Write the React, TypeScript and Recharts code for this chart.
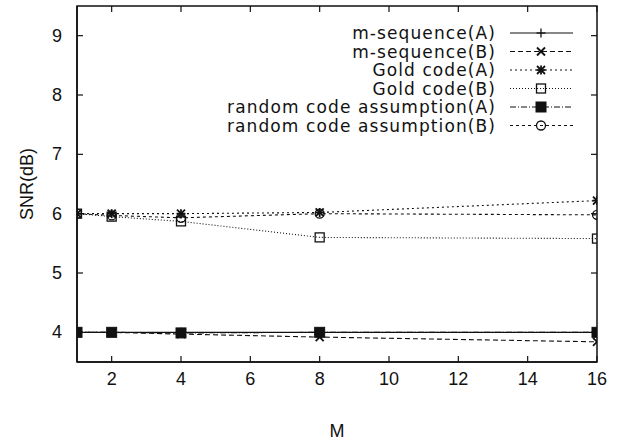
import React from 'react';
import { LineChart, Line, XAxis, YAxis, Legend, ReferenceArea } from 'recharts';

const mValues = [1, 2, 4, 8, 16];
const mSeqA = [4.0, 4.0, 4.0, 4.0, 4.0];
const mSeqB = [4.0, 4.0, 3.97, 3.92, 3.84];
const goldA = [6.0, 6.0, 6.0, 6.02, 6.22];
const goldB = [6.0, 5.95, 5.87, 5.6, 5.58];
const randA = [4.0, 4.0, 3.99, 4.0, 4.0];
const randB = [6.0, 5.97, 5.93, 6.0, 5.98];

const seriesNames = [
  'm-sequence(A)',
  'm-sequence(B)',
  'Gold code(A)',
  'Gold code(B)',
  'random code assumption(A)',
  'random code assumption(B)',
];
const xTicks = [2, 4, 6, 8, 10, 12, 14, 16];
const yTicks = [4, 5, 6, 7, 8, 9];
const xDomain = [1, 16];
const yDomain = [3.5, 9.5];

const seriesValues = [mSeqA, mSeqB, goldA, goldB, randA, randB];
const keys = ['mSeqA', 'mSeqB', 'goldA', 'goldB', 'randA', 'randB'];

const data = mValues.map((m, i) => {
  const row: any = { m };
  keys.forEach((k, j) => {
    row[k] = seriesValues[j][i];
  });
  return row;
});

const INK = '#111';
const FONT = '"Liberation Sans", Arial, sans-serif';
const LEGEND_FONT = '"DejaVu Sans", "Liberation Sans", sans-serif';

// layout
const W = 626;
const H = 445;
const MARGIN = { top: 6, right: 29, bottom: 28, left: 37 };
const X_AXIS_H = 55;
const Y_AXIS_W = 40;
const PLOT_TOP = MARGIN.top;
const PLOT_BOTTOM = H - MARGIN.bottom - X_AXIS_H;
const PLOT_LEFT = MARGIN.left + Y_AXIS_W;
const PLOT_RIGHT = W - MARGIN.right;
const TICK = 6;

type Kind = 'plus' | 'cross' | 'star' | 'square' | 'fsquare' | 'circle';
const kinds: Kind[] = ['plus', 'cross', 'star', 'square', 'fsquare', 'circle'];
const dashes = ['', '5 3', '2 3', '1 2', '6 2 1 2', '3 3'];

function marker(kind: Kind, cx: number, cy: number, key?: any) {
  const s = 4.5;
  switch (kind) {
    case 'plus':
      return (
        <g key={key}>
          <line x1={cx - s} y1={cy} x2={cx + s} y2={cy} stroke={INK} strokeWidth={1.3} />
          <line x1={cx} y1={cy - s} x2={cx} y2={cy + s} stroke={INK} strokeWidth={1.3} />
        </g>
      );
    case 'cross':
      return (
        <g key={key}>
          <line x1={cx - 4} y1={cy - 4} x2={cx + 4} y2={cy + 4} stroke={INK} strokeWidth={1.8} />
          <line x1={cx - 4} y1={cy + 4} x2={cx + 4} y2={cy - 4} stroke={INK} strokeWidth={1.8} />
        </g>
      );
    case 'star':
      return (
        <g key={key}>
          <line x1={cx - 4} y1={cy - 4} x2={cx + 4} y2={cy + 4} stroke={INK} strokeWidth={1.8} />
          <line x1={cx - 4} y1={cy + 4} x2={cx + 4} y2={cy - 4} stroke={INK} strokeWidth={1.8} />
          <line x1={cx - s} y1={cy} x2={cx + s} y2={cy} stroke={INK} strokeWidth={1.8} />
          <line x1={cx} y1={cy - s} x2={cx} y2={cy + s} stroke={INK} strokeWidth={1.8} />
        </g>
      );
    case 'square':
      return (
        <rect key={key} x={cx - 4.5} y={cy - 4.5} width={9} height={9} fill="none" stroke={INK} strokeWidth={1.3} />
      );
    case 'fsquare':
      return <rect key={key} x={cx - 5} y={cy - 5} width={10} height={10} fill={INK} stroke={INK} />;
    case 'circle':
      return <circle key={key} cx={cx} cy={cy} r={4.5} fill="none" stroke={INK} strokeWidth={1.3} />;
  }
  return null;
}

const makeDot = (kind: Kind) => (props: any) => {
  const { cx, cy, index } = props;
  if (cx == null || cy == null) return <g key={index} />;
  return marker(kind, cx, cy, index);
};

const XTick = (props: any) => {
  const { x, payload } = props;
  return (
    <g>
      <line x1={x} y1={PLOT_BOTTOM} x2={x} y2={PLOT_BOTTOM - TICK} stroke={INK} strokeWidth={1.2} />
      <line x1={x} y1={PLOT_TOP} x2={x} y2={PLOT_TOP + TICK} stroke={INK} strokeWidth={1.2} />
      <text x={x} y={PLOT_BOTTOM + 23} textAnchor="middle" fontFamily={FONT} fontSize={18} fill={INK}>
        {payload.value}
      </text>
    </g>
  );
};

const YTick = (props: any) => {
  const { y, payload } = props;
  return (
    <g>
      <line x1={PLOT_LEFT} y1={y} x2={PLOT_LEFT + TICK} y2={y} stroke={INK} strokeWidth={1.2} />
      <line x1={PLOT_RIGHT} y1={y} x2={PLOT_RIGHT - TICK} y2={y} stroke={INK} strokeWidth={1.2} />
      <text x={PLOT_LEFT - 15} y={y + 6} textAnchor="end" fontFamily={FONT} fontSize={18} fill={INK}>
        {payload.value}
      </text>
    </g>
  );
};

const renderLegend = () => {
  const textX = 496;
  const lineX1 = 510;
  const lineX2 = 573;
  const y0 = 33;
  const dy = 18.5;
  return (
    <svg width={W} height={150} style={{ display: 'block' }}>
      {seriesNames.map((name, i) => {
        const y = y0 + i * dy;
        return (
          <g key={name}>
            <text
              x={textX}
              y={y}
              textAnchor="end"
              dominantBaseline="central"
              fontFamily={LEGEND_FONT}
              fontSize={17}
              letterSpacing={1.1}
              fill={INK}
            >
              {name}
            </text>
            <line
              x1={lineX1}
              y1={y}
              x2={lineX2}
              y2={y}
              stroke={INK}
              strokeWidth={1.1}
              strokeDasharray={dashes[i] || undefined}
            />
            {marker(kinds[i], 541, y)}
          </g>
        );
      })}
    </svg>
  );
};

export default function App() {
  return (
    <div style={{ position: 'absolute', left: 0, top: 0, width: W, height: H, background: '#fff' }}>
      <LineChart width={W} height={H} data={data} margin={MARGIN}>
        <XAxis
          dataKey="m"
          type="number"
          domain={xDomain}
          ticks={xTicks}
          allowDataOverflow
          interval={0}
          tickLine={false}
          height={X_AXIS_H}
          stroke={INK}
          tick={<XTick />}
          axisLine={{ stroke: INK, strokeWidth: 1.5 }}
          label={{ value: 'M', position: 'insideBottom', offset: -20, style: { fontFamily: FONT, fontSize: 18, fill: INK } }}
        />
        <YAxis
          type="number"
          domain={yDomain}
          ticks={yTicks}
          allowDataOverflow
          interval={0}
          tickLine={false}
          width={Y_AXIS_W}
          stroke={INK}
          tick={<YTick />}
          axisLine={{ stroke: INK, strokeWidth: 1.5 }}
          label={{
            value: 'SNR(dB)',
            angle: -90,
            position: 'insideLeft',
            offset: -10,
            style: { fontFamily: FONT, fontSize: 18, fill: INK, textAnchor: 'middle' },
          }}
        />
        <ReferenceArea
          x1={xDomain[0]}
          x2={xDomain[1]}
          y1={yDomain[0]}
          y2={yDomain[1]}
          fill="none"
          fillOpacity={0}
          stroke={INK}
          strokeWidth={1.5}
          ifOverflow="visible"
        />
        <Legend
          layout="horizontal"
          verticalAlign="middle"
          align="center"
          content={renderLegend}
          wrapperStyle={{ top: 0, left: 0, width: W, height: 150 }}
        />
        {keys.map((k, i) => (
          <Line
            key={k}
            dataKey={k}
            name={seriesNames[i]}
            stroke={INK}
            strokeWidth={1.1}
            strokeDasharray={dashes[i] || undefined}
            dot={makeDot(kinds[i])}
            activeDot={false}
            isAnimationActive={false}
            type="linear"
          />
        ))}
      </LineChart>
    </div>
  );
}
